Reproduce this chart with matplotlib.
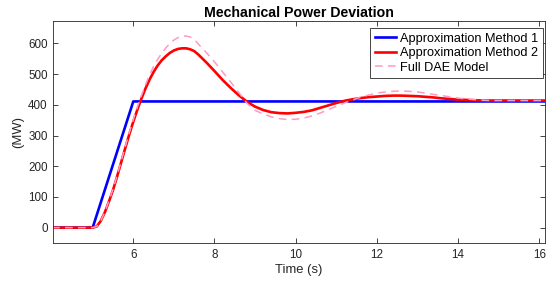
import numpy as np
import matplotlib
matplotlib.use("Agg")
import matplotlib.pyplot as plt

plt.rcParams['font.family'] = ['Liberation Sans', 'DejaVu Sans']

# time axes (s)
t_step = [4.0, 5.0, 6.0, 16.2]
t_dyn = [4.0, 5.0, 5.1, 5.2, 5.3, 5.4, 5.5, 5.6, 5.7, 5.8, 5.9, 6.0, 6.1, 6.2, 6.3,
         6.4, 6.5, 6.6, 6.7, 6.8, 6.9, 7.0, 7.1, 7.2, 7.3, 7.4, 7.5, 7.6,
         7.8, 8.0, 8.2, 8.4, 8.6, 8.8, 9.0, 9.2, 9.4, 9.6, 9.8, 10.0, 10.2, 10.4,
         10.6, 10.8, 11.0, 11.2, 11.4, 11.6, 11.8, 12.0, 12.2, 12.4, 12.6, 12.8,
         13.0, 13.2, 13.4, 13.6, 13.8, 14.0, 14.2, 14.4, 14.6, 14.8, 15.0, 15.2,
         15.4, 15.6, 15.8, 16.0, 16.2]

# mechanical power deviation (MW)
approx1 = [0, 0, 411, 411]
approx2 = [0, 0, 4, 22, 50, 85, 122, 166, 212, 258, 303, 345, 384, 420, 453,
           482, 507, 528, 545, 558, 569, 577, 582, 584, 584, 581, 575, 564,
           538, 510, 481, 455, 431, 410, 394, 383, 376, 373, 372, 374, 377, 382,
           390, 398, 406, 413, 418, 422, 425, 427, 429, 430, 430, 429,
           428, 426, 424, 421, 419, 417, 416, 415, 414, 414, 414, 414,
           414, 414, 414, 414, 414]
full_dae = [0, 0, 4, 22, 51, 87, 125, 169, 216, 263, 309, 352, 393, 430, 465,
            497, 525, 548, 568, 585, 600, 611, 619, 623, 624, 621, 614, 598,
            570, 540, 507, 474, 440, 405, 382, 370, 361, 355, 352, 353, 357, 364,
            373, 384, 395, 406, 416, 425, 432, 438, 442, 444, 445, 444,
            442, 438, 434, 430, 426, 422, 419, 417, 415, 414, 414, 414,
            414, 414, 414, 414, 414]

fig = plt.figure(figsize=(5.46, 2.86), dpi=100)
ax = fig.add_axes([53.3 / 546, 1 - 243.3 / 286, (545 - 53.3) / 546, (243.3 - 21) / 286])

ax.plot(t_step, approx1, color=(0, 0, 1), lw=1.9, label="Approximation Method 1")
ax.plot(t_dyn, approx2, color=(1, 0, 0), lw=1.9, label="Approximation Method 2")
ax.plot(t_dyn, full_dae, color=(1, 0.6, 0.78), lw=1.1, ls=(0, (5, 3.5)),
        label="Full DAE Model")

ax.set_xlim(4.03, 16.14)
ax.set_ylim(-51, 673)
ax.set_xticks([6, 8, 10, 12, 14, 16])
ax.set_yticks([0, 100, 200, 300, 400, 500, 600])

axc = (0.15, 0.15, 0.15)
for s in ax.spines.values():
    s.set_color(axc)
    s.set_linewidth(0.6)
ax.tick_params(direction='in', length=3.5, width=0.6, colors=axc, labelsize=8.4,
               top=True, right=True, pad=4)

ax.set_title("Mechanical Power Deviation", fontsize=10.2, fontweight='bold', pad=3)
ax.set_xlabel("Time (s)", fontsize=9.4, color=axc, labelpad=2.5)
ax.set_ylabel("(MW)", fontsize=9.4, color=axc, labelpad=3)

leg = ax.legend(loc='upper right', bbox_to_anchor=(542.7 / 546, 1 - 28.3 / 286),
                bbox_transform=fig.transFigure, borderaxespad=0, fontsize=9.2,
                fancybox=False, framealpha=1, edgecolor=axc, handlelength=1.7,
                handletextpad=0.3, labelspacing=0.2, borderpad=0.35)
leg.get_frame().set_linewidth(0.6)

fig.savefig("out.png", dpi=100)
